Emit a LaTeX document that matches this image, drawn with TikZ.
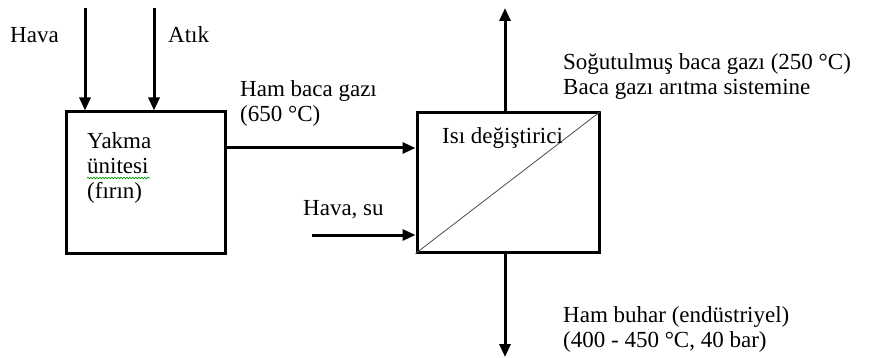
\documentclass[tikz,border=0pt]{standalone}
\usepackage{fontspec}
\setmainfont{Liberation Serif}
\usetikzlibrary{arrows.meta,decorations.pathmorphing}
\begin{document}
\begin{tikzpicture}[x=1pt,y=-1pt,
  lbl/.style={anchor=base west,inner sep=0pt,font=\fontsize{23}{25}\selectfont,align=left,text=black},
  unit/.style={draw,line width=3pt,rectangle,inner sep=0pt},
  arr/.style={line width=3pt,-{Triangle[length=13pt,width=11pt]}}]
\useasboundingbox (0,0) rectangle (874,358);
% boxes
\node[unit,minimum width=159pt,minimum height=141pt] (furnace) at (145.5,182.5) {};
\node[unit,minimum width=182pt,minimum height=139pt] (hx) at (508,182.5) {};
\draw[line width=0.8pt,black!70] (hx.south west) -- (hx.north east);
% free ends
\coordinate (havain) at (85,8);
\coordinate (atikin) at (154,8);
\coordinate (suin) at (312,235);
\coordinate (gasout) at (505,8);
\coordinate (steamout) at (505,357);
% connectors
\draw[arr] (havain) -- (havain |- furnace.north);
\draw[arr] (atikin) -- (atikin |- furnace.north);
\draw[arr] (furnace.east |- 0,148) -- (hx.west |- 0,148);
\draw[arr] (suin) -- (suin -| hx.west);
\draw[arr] (gasout |- hx.north) -- (gasout);
\draw[arr] (steamout |- hx.south) -- (steamout);
% labels (base = baseline of last line)
\node[lbl] (thava) at (10,43) {Hava};
\node[lbl] (tatik) at (168,43) {Atık};
\node[lbl] (tfurn) at (87,198) {Yakma\\ünitesi\\(fırın)};
\node[lbl] (tham) at (240,122) {Ham baca gazı\\(650 °C)};
\node[lbl] (thx) at (442,143) {Isı değiştirici};
\node[lbl] (tsu) at (303,215) {Hava, su};
\node[lbl] (tcool) at (563,95) {Soğutulmuş baca gazı (250 °C)\\Baca gazı arıtma sistemine};
\node[lbl] (tsteam) at (563,347) {Ham buhar (endüstriyel)\\(400 - 450 °C, 40 bar)};
% spell-check squiggle
\draw[green!60!black,line width=0.7pt,decorate,decoration={snake,amplitude=0.8pt,segment length=3pt}] (87,178) -- (150,178);
\end{tikzpicture}
\end{document}
